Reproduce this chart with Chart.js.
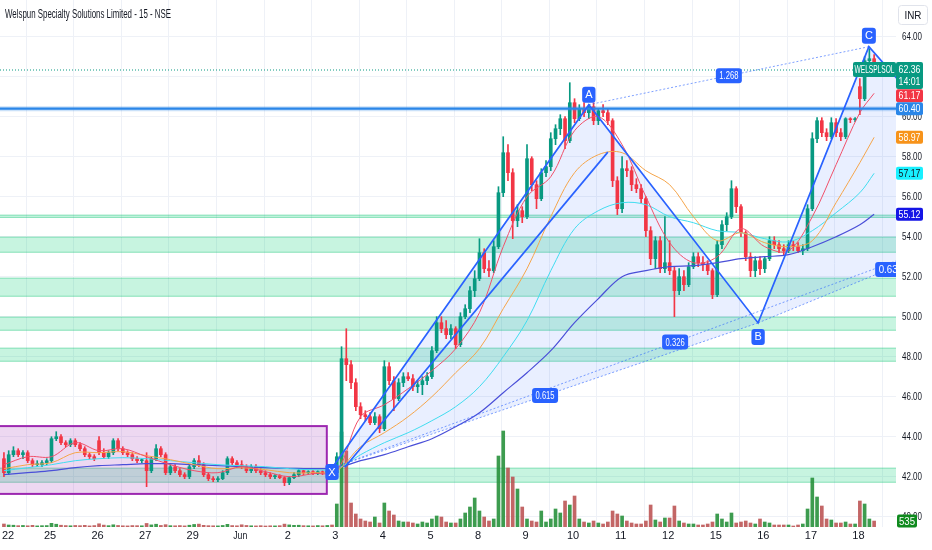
<!DOCTYPE html>
<html><head><meta charset="utf-8">
<script src="https://cdn.jsdelivr.net/npm/chart.js@4.4.1/dist/chart.umd.min.js"></script>
<style>html,body{margin:0;padding:0;background:#fff;overflow:hidden}canvas{display:block}</style>
</head><body>
<canvas id="c" width="932" height="550" style="width:932px;height:550px"></canvas>
<script>
const titleText = 'Welspun Specialty Solutions Limited - 15 - NSE';
const dayLabels = ['22','25','26','27','29','Jun','2','3','4','5','8','9','10','11','12','15','16','17','18'];
const dayTicks = [-0.3,9.7,19.7,29.7,39.7,49.7,59.7,69.7,79.7,89.7,99.7,109.7,119.7,129.7,139.7,149.7,159.7,169.7,179.7];
const priceTicks = [40,42,44,46,48,50,52,54,56,58,60,62,64];

const opens = [42.9,42.2,43.1,43.3,43.1,43.2,42.8,42.6,42.6,42.7,
42.8,43.9,44.0,43.7,43.6,43.8,43.6,43.4,43.1,43.0,
43.8,43.2,43.0,43.2,43.8,43.4,43.2,43.1,42.9,42.8,
42.8,42.3,42.9,43.4,43.1,42.2,42.5,42.3,42.1,42.0,
42.5,42.8,42.6,42.1,41.9,41.85,41.9,42.2,42.9,42.7,
42.6,42.5,42.3,42.5,42.3,42.2,42.1,42.0,42.05,41.95,
41.7,41.95,42.1,42.3,42.2,42.25,42.15,42.25,42.2,42.3,
42.2,43.0,47.9,47.6,46.7,45.5,45.1,45.0,44.7,45.0,
44.4,47.5,46.8,45.9,46.7,47.0,46.9,46.5,46.6,46.8,
47.0,48.3,49.7,49.4,49.1,49.4,48.6,50.0,50.4,51.3,
51.9,53.2,52.4,52.3,53.5,56.2,58.2,57.2,54.8,55.3,
55.0,57.9,56.6,55.9,57.2,57.5,58.9,59.4,59.9,58.8,
60.7,59.9,60.4,60.2,60.5,59.8,60.3,60.2,59.8,56.8,
55.4,57.4,57.3,56.6,56.4,55.9,54.3,52.9,53.8,52.4,
52.7,52.3,51.3,52.0,51.6,52.5,53.0,52.7,52.6,52.3,
51.1,53.6,54.6,55.0,56.4,55.5,54.2,53.0,52.3,52.8,
52.4,52.9,53.8,53.6,53.4,53.3,53.6,53.5,53.3,53.4,
55.4,58.9,59.8,59.2,59.0,59.7,59.2,59.0,59.9,59.85,
61.5,60.9,62.8,62.9];
const highs = [43.2,43.3,43.5,43.4,43.3,43.3,42.9,42.8,42.8,42.9,
44.0,44.25,44.1,43.8,43.9,43.9,43.7,43.5,43.2,43.1,
44.0,43.4,43.3,43.9,43.9,43.5,43.3,43.2,43.0,42.9,
43.2,43.0,43.6,43.5,43.2,42.6,42.6,42.4,42.2,42.6,
42.9,43.05,42.7,42.2,42.0,42.0,42.3,43.0,43.0,42.8,
42.8,42.6,42.6,42.6,42.4,42.3,42.2,42.1,42.1,42.0,
42.0,42.2,42.4,42.4,42.3,42.3,42.3,42.3,42.4,42.5,
43.2,48.5,49.4,47.8,46.9,45.7,45.3,45.2,45.2,45.1,
47.8,47.7,47.0,46.9,47.2,47.2,47.1,46.8,47.0,47.2,
48.5,50.0,50.0,49.8,49.6,49.5,50.2,50.6,51.5,52.3,
53.9,53.4,52.8,53.8,56.5,59.0,58.6,57.4,55.6,55.5,
58.6,58.0,56.8,57.4,57.8,59.2,59.6,60.1,60.0,61.7,
60.9,60.6,60.7,60.6,60.7,60.4,60.6,60.4,59.9,57.0,
58.0,57.8,57.5,56.9,56.6,56.0,54.5,54.0,54.0,55.0,
53.8,52.5,52.4,52.3,52.7,53.2,53.2,53.0,52.8,52.4,
53.8,54.8,55.2,56.8,56.5,55.6,54.3,53.2,53.0,53.0,
53.0,54.0,54.0,53.8,53.6,53.8,53.8,53.7,53.6,55.6,
59.2,59.95,59.95,59.4,59.95,59.9,59.4,59.95,59.95,59.95,
61.9,63.0,63.4,63.1];
const lows = [42.0,42.1,43.0,43.0,42.9,42.7,42.5,42.5,42.5,42.6,
42.7,43.8,43.6,43.5,43.5,43.5,43.3,43.0,42.9,42.8,
43.1,42.9,42.9,43.1,43.3,43.1,43.0,42.8,42.7,42.7,
41.5,42.2,42.8,43.0,42.1,42.1,42.2,42.0,41.9,41.9,
42.4,42.5,42.0,41.8,41.75,41.75,41.85,42.1,42.6,42.5,
42.4,42.2,42.2,42.2,42.1,42.0,41.9,41.9,41.9,41.55,
41.6,41.9,42.0,42.1,42.1,42.1,42.1,42.1,42.1,42.0,
42.1,42.9,46.8,46.4,45.3,44.9,44.8,44.6,44.6,44.2,
44.3,46.6,45.3,45.8,46.5,46.8,46.3,46.2,46.1,46.6,
46.9,48.2,49.2,48.9,48.9,48.4,48.5,49.9,50.2,51.0,
51.8,52.2,52.0,52.2,53.4,56.0,56.8,53.9,54.5,54.7,
54.9,56.3,55.4,55.8,57.0,57.3,58.6,59.1,58.4,58.7,
59.7,59.8,60.0,59.9,59.6,59.6,60.0,59.6,56.5,55.1,
55.2,57.0,56.3,56.2,55.7,54.0,52.6,52.4,52.2,52.2,
52.1,50.0,51.1,51.3,51.5,52.4,52.5,52.3,52.1,50.9,
51.0,53.4,54.3,54.9,55.2,54.0,52.8,52.0,52.0,52.1,
52.2,52.8,53.4,53.2,53.1,53.2,53.3,53.2,53.1,53.3,
55.3,58.7,59.0,58.8,58.9,59.0,58.8,58.9,59.7,59.75,
60.1,60.8,62.5,62.2];
const closes = [42.2,43.1,43.3,43.1,43.2,42.8,42.6,42.6,42.7,42.8,
43.9,44.0,43.7,43.6,43.8,43.6,43.4,43.1,43.0,42.9,
43.2,43.0,43.2,43.8,43.4,43.2,43.1,42.9,42.8,42.8,
42.3,42.9,43.4,43.1,42.2,42.5,42.3,42.1,42.0,42.5,
42.8,42.6,42.1,41.9,41.85,41.9,42.2,42.9,42.7,42.6,
42.5,42.3,42.5,42.3,42.2,42.1,42.0,42.05,41.95,41.7,
41.95,42.1,42.3,42.2,42.25,42.15,42.25,42.2,42.3,42.2,
43.0,47.9,47.6,46.7,45.5,45.1,45.0,44.7,45.0,44.4,
47.5,46.8,45.9,46.7,47.0,46.9,46.5,46.6,46.8,47.0,
48.3,49.7,49.4,49.1,49.4,48.6,50.0,50.4,51.3,51.9,
53.2,52.4,52.3,53.5,56.2,58.2,57.2,54.8,55.3,55.0,
57.9,56.6,55.9,57.2,57.5,58.9,59.4,59.9,58.8,60.7,
59.9,60.4,60.2,60.5,59.8,60.3,60.2,59.8,56.8,55.4,
57.4,57.3,56.6,56.4,55.9,54.3,52.9,53.8,52.4,52.7,
52.3,51.3,52.0,51.6,52.5,53.0,52.7,52.6,52.3,51.1,
53.6,54.6,55.0,56.4,55.5,54.2,53.0,52.3,52.8,52.4,
52.9,53.8,53.6,53.4,53.3,53.6,53.5,53.3,53.4,55.4,
58.9,59.8,59.2,59.0,59.7,59.2,59.0,59.9,59.85,59.9,
60.9,62.8,62.9,62.36];
const volumes = [270,180,160,120,140,110,150,100,120,130,
330,250,160,130,110,140,120,150,100,130,
290,170,120,200,140,110,100,130,120,110,
320,190,250,140,210,120,110,130,100,160,
230,260,150,120,110,100,140,240,130,110,
200,140,110,100,120,90,110,100,120,260,
190,150,160,120,110,100,130,110,140,180,
2070,8550,6840,2160,1170,720,540,450,900,360,
2160,1440,1080,540,450,450,360,270,450,360,
720,990,900,450,360,360,720,1260,1800,2610,
1440,900,540,720,6390,8640,5310,4500,3420,1800,
720,540,450,1440,450,720,1620,1260,2340,1980,
2790,720,450,360,540,360,270,450,1440,1170,
990,540,360,270,270,540,1980,630,450,810,
810,1890,540,360,270,270,180,180,270,450,
1170,720,450,1260,360,450,540,360,270,720,
450,360,180,180,180,180,90,180,270,1620,
4410,2700,1890,720,630,360,360,450,270,270,
2340,2070,720,535];

const maBars = [0,5,10,15,20,25,30,35,40,45,50,55,60,65,70,75,80,85,90,95,100,105,110,115,120,125,130,135,140,145,150,155,160,165,170,175,180,183];
const emaFast = [42.6,43.0,43.0,43.7,43.3,43.4,43.0,42.6,42.3,42.2,42.5,42.25,42.0,42.15,42.3,45.0,45.6,46.4,47.3,48.4,50.2,53.5,56.0,57.0,59.3,60.0,58.6,56.0,53.7,52.7,53.0,54.4,53.5,53.3,55.0,57.6,60.2,61.17];
const emaMid = [42.4,42.6,42.7,43.2,43.2,43.25,43.05,42.85,42.6,42.4,42.45,42.35,42.2,42.2,42.3,43.5,44.2,45.0,46.0,47.2,48.4,50.4,52.4,55.0,57.2,58.1,58.2,57.3,56.6,55.0,53.8,54.2,53.7,53.5,53.8,55.7,57.7,58.97];
const emaSlow = [42.3,42.45,42.6,42.8,42.9,42.95,42.9,42.8,42.7,42.6,42.55,42.5,42.4,42.35,42.4,43.1,43.7,44.2,44.8,45.5,46.5,48.0,49.8,52.3,54.4,55.3,55.7,55.6,55.0,54.7,54.3,54.2,53.9,53.75,54.3,55.2,56.2,57.17];
const emaLong = [42.1,42.2,42.3,42.45,42.55,42.6,42.65,42.65,42.6,42.55,42.5,42.45,42.42,42.4,42.45,42.8,43.1,43.5,43.9,44.5,45.2,46.2,47.2,48.3,49.7,50.9,52.0,52.3,52.5,52.55,52.7,52.9,53.0,53.1,53.5,54.0,54.6,55.12];

const zoneLow  = [54.94,53.2,51.0,49.3,47.75,41.7];
const zoneHigh = [55.1,54.0,51.95,50.0,48.45,42.45];
const hLinePrice = 60.40;
const lastPrice = 62.36;
const lastTime = '14:01';
const lastVolume = 535;
const boxBars = [-5,67.9];
const boxPrices = [41.14,44.53];
const patternNames = ['X','A','B','C','D'];
const patternBars = [69.0,123.0,158.6,181.9,213.3];
const patternPrices = [42.43,60.6,49.69,63.5,55.03];
const ratioFrom = [0,1,2,0];
const ratioTo = [2,3,4,4];
const ratioLabels = ['0.615','1.268','0.63','0.326'];
const trendBars = [71.7,127.0];
const trendPrices = [42.47,58.23];
const tagValues = [61.17,60.40,58.97,57.17,55.12];

const F = "'Liberation Sans Narrow','Liberation Sans',Arial,sans-serif";
const UP = '#089981', DN = '#f23645';
const isUp = closes.map((c,i)=>c>=opens[i]);

function rr(ctx,x,y,w,h,r){ctx.beginPath();ctx.moveTo(x+r,y);ctx.lineTo(x+w-r,y);ctx.quadraticCurveTo(x+w,y,x+w,y+r);ctx.lineTo(x+w,y+h-r);ctx.quadraticCurveTo(x+w,y+h,x+w-r,y+h);ctx.lineTo(x+r,y+h);ctx.quadraticCurveTo(x,y+h,x,y+h-r);ctx.lineTo(x,y+r);ctx.quadraticCurveTo(x,y,x+r,y);ctx.closePath();}
function tag(ctx,text,cx,cy,bg,fg,size,padX,h,maxW){
  ctx.font = size+'px '+F;
  let tw = Math.min(ctx.measureText(text).width, maxW||999);
  const w = tw+padX*2;
  ctx.fillStyle=bg; rr(ctx,cx-w/2,cy-h/2,w,h,3); ctx.fill();
  ctx.fillStyle=fg; ctx.textAlign='center'; ctx.textBaseline='middle';
  ctx.fillText(text,cx,cy+0.5,maxW||999);
}

const tv = {
  id:'tv',
  beforeDatasetsDraw(chart){
    const {ctx, chartArea:a, scales:{x,y}} = chart;
    ctx.save();
    ctx.beginPath(); ctx.rect(a.left,a.top,a.right-a.left,a.bottom-a.top); ctx.clip();
    for(let k=0;k<zoneLow.length;k++){
      const y1=y.getPixelForValue(zoneHigh[k]), y2=y.getPixelForValue(zoneLow[k]);
      ctx.fillStyle='rgba(0,205,115,0.22)';
      ctx.fillRect(a.left,y1,a.right-a.left,y2-y1);
      ctx.strokeStyle='rgba(0,190,105,0.35)'; ctx.lineWidth=1;
      ctx.beginPath(); ctx.moveTo(a.left,y1+0.5); ctx.lineTo(a.right,y1+0.5);
      ctx.moveTo(a.left,y2-0.5); ctx.lineTo(a.right,y2-0.5); ctx.stroke();
    }
    const bx1=x.getPixelForValue(boxBars[0]), bx2=x.getPixelForValue(boxBars[1]);
    const by1=y.getPixelForValue(boxPrices[1]), by2=y.getPixelForValue(boxPrices[0]);
    ctx.fillStyle='rgba(156,39,176,0.18)'; ctx.fillRect(bx1,by1,bx2-bx1,by2-by1);
    ctx.strokeStyle='#9c27b0'; ctx.lineWidth=2; ctx.strokeRect(bx1,by1,bx2-bx1,by2-by1);
    const P = patternBars.map((b,k)=>[x.getPixelForValue(b), y.getPixelForValue(patternPrices[k])]);
    ctx.fillStyle='rgba(41,98,255,0.10)';
    [[0,1,2],[2,3,4]].forEach(t=>{ctx.beginPath();ctx.moveTo(P[t[0]][0],P[t[0]][1]);ctx.lineTo(P[t[1]][0],P[t[1]][1]);ctx.lineTo(P[t[2]][0],P[t[2]][1]);ctx.closePath();ctx.fill();});
    ctx.restore();
  },
  afterDatasetsDraw(chart){
    const {ctx, chartArea:a, scales:{x,y}} = chart;
    ctx.save();
    ctx.beginPath(); ctx.rect(a.left,a.top,a.right-a.left,a.bottom-a.top); ctx.clip();
    const hy=y.getPixelForValue(hLinePrice);
    ctx.strokeStyle='rgba(42,134,232,0.25)'; ctx.lineWidth=5;
    ctx.beginPath(); ctx.moveTo(a.left,hy); ctx.lineTo(a.right,hy); ctx.stroke();
    ctx.strokeStyle='#2a86e8'; ctx.lineWidth=2.2;
    ctx.beginPath(); ctx.moveTo(a.left,hy); ctx.lineTo(a.right,hy); ctx.stroke();
    const py=y.getPixelForValue(lastPrice);
    ctx.strokeStyle=UP; ctx.lineWidth=1; ctx.setLineDash([1,2]);
    ctx.beginPath(); ctx.moveTo(a.left,py+0.5); ctx.lineTo(a.right,py+0.5); ctx.stroke();
    ctx.setLineDash([]);
    const P = patternBars.map((b,k)=>[x.getPixelForValue(b), y.getPixelForValue(patternPrices[k])]);
    ctx.strokeStyle='rgba(41,98,255,0.6)'; ctx.lineWidth=1; ctx.setLineDash([2,2]);
    for(let k=0;k<ratioFrom.length;k++){
      ctx.beginPath(); ctx.moveTo(P[ratioFrom[k]][0],P[ratioFrom[k]][1]); ctx.lineTo(P[ratioTo[k]][0],P[ratioTo[k]][1]); ctx.stroke();
    }
    ctx.setLineDash([]);
    ctx.strokeStyle='#2962ff'; ctx.lineWidth=1.7;
    ctx.beginPath(); ctx.moveTo(P[0][0],P[0][1]);
    for(let k=1;k<P.length;k++) ctx.lineTo(P[k][0],P[k][1]);
    ctx.stroke();
    ctx.beginPath();
    ctx.moveTo(x.getPixelForValue(trendBars[0]), y.getPixelForValue(trendPrices[0]));
    ctx.lineTo(x.getPixelForValue(trendBars[1]), y.getPixelForValue(trendPrices[1]));
    ctx.stroke();
    for(let k=0;k<ratioFrom.length;k++){
      const mx=(P[ratioFrom[k]][0]+P[ratioTo[k]][0])/2, my=(P[ratioFrom[k]][1]+P[ratioTo[k]][1])/2;
      tag(ctx,ratioLabels[k],mx,my,'#2962ff','#fff',11,3.5,15,19);
    }
    const offs=[4,-10,14,-11,12];
    for(let k=0;k<P.length;k++){
      tag(ctx,patternNames[k],P[k][0],P[k][1]+offs[k],'#2962ff','#fff',11,3,16);
    }
    ctx.restore();
  },
  afterDraw(chart){
    const {ctx, chartArea:a, scales:{x,y,yv}} = chart;
    ctx.save();
    ctx.fillStyle='#131722'; ctx.textBaseline='middle';
    ctx.font='12px '+F; ctx.textAlign='left';
    ctx.fillText(titleText,5,15,166);
    ctx.font='11px '+F; ctx.textAlign='center';
    dayTicks.forEach((v,i)=>{
      let px=x.getPixelForValue(v);
      const w=Math.min(ctx.measureText(dayLabels[i]).width,14);
      if(px-w/2<2) px=2+w/2;
      ctx.fillText(dayLabels[i],px,536,14);
    });
    ctx.textAlign='left';
    priceTicks.forEach(v=>{
      const py=y.getPixelForValue(v);
      ctx.fillText(v.toFixed(2),a.right+6,py,20);
    });
    ctx.strokeStyle='#e0e3eb'; ctx.lineWidth=1;
    rr(ctx,898.5,5.5,29,19,3); ctx.stroke();
    ctx.textAlign='center'; ctx.fillStyle='#131722'; ctx.font='11px '+F;
    ctx.fillText('INR',913,15.5,17);
    const tagBg=[DN,'#2a86e8','#f7931a','#18f0ff','#1515e6'];
    const tagFg=['#fff','#fff','#fff','#131722','#fff'];
    const tagShift=[2.5,0,0,0,0];
    tagValues.forEach((v,k)=>{
      const ty=y.getPixelForValue(v)+tagShift[k];
      ctx.fillStyle=tagBg[k]; rr(ctx,a.right,ty-6.5,27,13,2); ctx.fill();
      ctx.fillStyle=tagFg[k]; ctx.font='11px '+F; ctx.textAlign='center';
      ctx.fillText(v.toFixed(2),a.right+13.5,ty+0.5,22);
    });
    const ly=y.getPixelForValue(lastPrice);
    ctx.fillStyle=UP; rr(ctx,a.right,ly-7.5,27,27,2); ctx.fill();
    ctx.fillStyle='#fff'; ctx.font='11px '+F; ctx.textAlign='center';
    ctx.fillText(lastPrice.toFixed(2),a.right+13.5,ly+0.5,22);
    ctx.fillText(lastTime,a.right+13.5,ly+12.5,22);
    ctx.fillStyle=UP; rr(ctx,a.right-43,ly-7.5,43,15,2); ctx.fill();
    ctx.fillStyle='#fff';
    ctx.fillText('WELSPLSOL',a.right-21.5,ly+0.5,40);
    const vy=yv.getPixelForValue(lastVolume);
    ctx.fillStyle='#0f8a1e'; rr(ctx,a.right+1,vy-6.5,20,13,2); ctx.fill();
    ctx.fillStyle='#fff'; ctx.fillText(String(lastVolume),a.right+11,vy+0.5,16);
    ctx.restore();
  }
};

const ctx = document.getElementById('c').getContext('2d');
new Chart(ctx,{
  type:'bar',
  data:{datasets:[
    {type:'line',data:maBars.map((b,k)=>({x:b,y:emaFast[k]})),borderColor:'#f0506a',borderWidth:1,pointRadius:0,tension:0.35,yAxisID:'y',order:0},
    {type:'line',data:maBars.map((b,k)=>({x:b,y:emaMid[k]})),borderColor:'#f5a54a',borderWidth:1,pointRadius:0,tension:0.35,yAxisID:'y',order:0},
    {type:'line',data:maBars.map((b,k)=>({x:b,y:emaSlow[k]})),borderColor:'#40dcef',borderWidth:1,pointRadius:0,tension:0.35,yAxisID:'y',order:0},
    {type:'line',data:maBars.map((b,k)=>({x:b,y:emaLong[k]})),borderColor:'#4a4fd8',borderWidth:1.2,pointRadius:0,tension:0.35,yAxisID:'y',order:0},
    {data:highs.map((h,i)=>({x:i,y:[lows[i],h]})),backgroundColor:isUp.map(u=>u?UP:DN),barThickness:1,grouped:false,yAxisID:'y',order:2},
    {data:opens.map((o,i)=>({x:i,y:[o,closes[i]]})),backgroundColor:isUp.map(u=>u?UP:DN),barThickness:3,minBarLength:1,grouped:false,yAxisID:'y',order:1},
    {data:volumes.map((v,i)=>({x:i,y:v})),backgroundColor:isUp.map(u=>u?'rgba(40,145,60,0.9)':'rgba(185,75,75,0.85)'),barThickness:3,grouped:false,yAxisID:'yv',order:3}
  ]},
  options:{
    responsive:false, animation:false, events:[],
    layout:{padding:0},
    plugins:{legend:{display:false},tooltip:{enabled:false}},
    scales:{
      x:{type:'linear',min:-0.827,max:187.6,offset:false,
        afterBuildTicks:s=>{s.ticks=dayTicks.map(v=>({value:v}));},
        afterFit:s=>{s.height=23;s.paddingLeft=0;s.paddingRight=0;},
        grid:{color:'#eef1f7',drawTicks:false},border:{display:false},ticks:{display:false}},
      y:{position:'right',min:39.485,max:65.835,
        afterBuildTicks:s=>{s.ticks=priceTicks.map(v=>({value:v}));},
        afterFit:s=>{s.width=36;s.paddingTop=0;s.paddingBottom=0;},
        grid:{color:'#eef1f7',drawTicks:false},border:{display:false},ticks:{display:false}},
      yv:{display:false,min:0,max:47430}
    }
  },
  plugins:[tv]
});
</script>
</body></html>
